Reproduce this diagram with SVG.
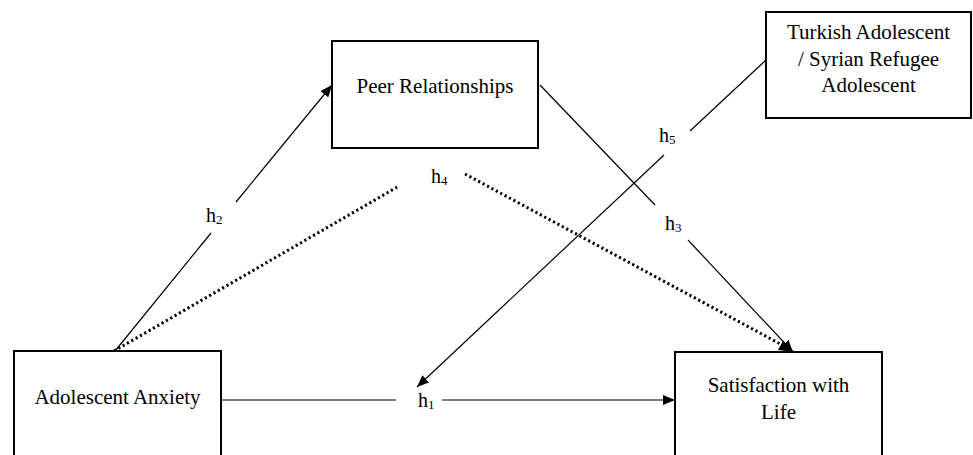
<svg xmlns="http://www.w3.org/2000/svg" width="973" height="455" viewBox="0 0 973 455">
<style>
.box{fill:#fff;stroke:#000;stroke-width:2}
.t{font-family:"Liberation Serif","Times New Roman",serif;font-size:21px;fill:#000;text-anchor:middle}
.h{font-family:"Liberation Serif","Times New Roman",serif;font-size:20px;fill:#000}
.sub{font-size:13px}
.ln{stroke:#000;stroke-width:1.2;fill:none}
.dot{stroke:#000;stroke-width:3;fill:none;stroke-dasharray:2.2 2.8}
</style>
<defs>
<marker id="arr" viewBox="0 0 12 10" refX="12" refY="5" markerWidth="12" markerHeight="10" markerUnits="userSpaceOnUse" orient="auto">
<path d="M0,0 L12,5 L0,10 Z" fill="#000"/>
</marker>
</defs>
<rect width="973" height="455" fill="#fff"/>
<g id="connectors">
<line class="ln" x1="221" y1="400" x2="396" y2="400"/>
<line class="ln" x1="442" y1="400" x2="675" y2="400" marker-end="url(#arr)"/>
<line class="ln" x1="115" y1="351" x2="211" y2="233"/>
<line class="ln" x1="236" y1="202" x2="332" y2="85" marker-end="url(#arr)"/>
<line class="ln" x1="540" y1="85" x2="655" y2="205"/>
<line class="ln" x1="688" y1="240" x2="793" y2="352" marker-end="url(#arr)"/>
<line class="ln" x1="766" y1="60" x2="690" y2="131"/>
<line class="ln" x1="664" y1="155" x2="417" y2="387" marker-end="url(#arr)"/>
<line class="dot" x1="114" y1="351" x2="399" y2="186"/>
<line class="dot" x1="465" y1="174" x2="784" y2="346"/>
<path d="M783,341 L794,352 L778,350 Z" fill="#000"/>
</g>
<g id="peer"><rect class="box" x="332" y="41" width="206" height="107"/><text class="t" x="435" y="93">Peer Relationships</text></g>
<g id="group"><rect class="box" x="766" y="12" width="205" height="106"/><text class="t" x="868.5" y="39">Turkish Adolescent</text><text class="t" x="868.5" y="66">/ Syrian Refugee</text><text class="t" x="868.5" y="92">Adolescent</text></g>
<g id="anxiety"><rect class="box" x="14" y="351" width="207" height="110"/><text class="t" x="117.5" y="404">Adolescent Anxiety</text></g>
<g id="satisfaction"><rect class="box" x="675" y="352" width="207" height="110"/><text class="t" x="778.5" y="392">Satisfaction with</text><text class="t" x="778.5" y="419">Life</text></g>
<g id="labels">
<text class="h" x="206" y="222">h<tspan class="sub" dy="2">2</tspan></text>
<text class="h" x="431" y="183">h<tspan class="sub" dy="2">4</tspan></text>
<text class="h" x="665" y="230">h<tspan class="sub" dy="2">3</tspan></text>
<text class="h" x="659" y="142">h<tspan class="sub" dy="2">5</tspan></text>
<text class="h" x="418" y="407">h<tspan class="sub" dy="2">1</tspan></text>
</g>
</svg>
